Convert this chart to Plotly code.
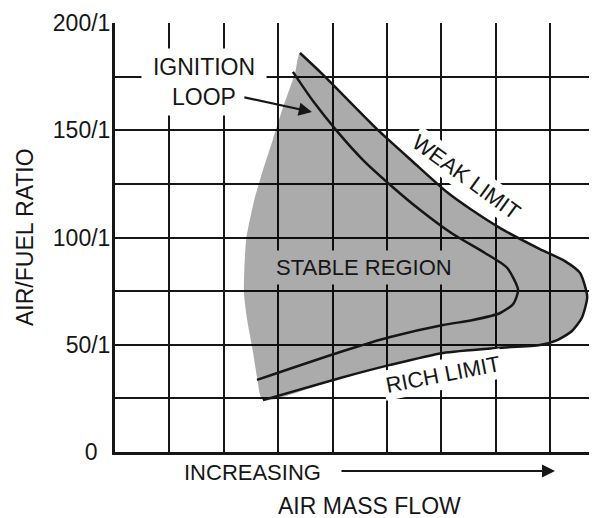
import plotly.graph_objects as go

# ---- data (x in grid units of air mass flow, y = air/fuel ratio) ----
y_tick_vals = [0, 25, 50, 75, 100, 125, 150, 175, 200]
y_tick_text = ["0\u00a0\u00a0", "", "50/1", "", "100/1", "", "150/1", "", "200/1"]

# weak limit -> nose -> rich limit (outer boundary of the stable region)
outer_x = [3.40, 3.77, 4.14, 4.87, 5.48, 6.10, 6.56, 7.08, 7.81, 8.27, 8.55, 8.68,
           8.58, 8.40, 8.13, 7.81, 7.02, 6.03, 5.06, 4.14, 2.72]
outer_y = [186.0, 177.2, 167.8, 149.2, 135.2, 121.2, 112.8, 104.4, 94.6, 89.0, 83.4, 72.3,
           62.5, 56.4, 52.2, 49.9, 48.5, 46.2, 40.6, 34.5, 24.2]

# low-flow (left) edge of the stable region, bottom to top
left_x = [2.61, 2.54, 2.43, 2.37, 2.41, 2.56, 2.72, 2.90, 3.09, 3.31]
left_y = [35.0, 46.2, 61.5, 74.1, 98.8, 117.5, 131.5, 145.5, 160.8, 176.7]

# ignition loop
ign_x = [3.27, 3.64, 4.08, 4.56, 5.06, 5.61, 6.21, 6.80, 7.21, 7.41,
         7.32, 7.08, 6.58, 6.03, 5.06, 4.14, 2.61]
ign_y = [177.2, 163.6, 149.6, 136.1, 124.5, 112.8, 101.6, 92.8, 85.8, 75.5,
         69.0, 64.8, 61.5, 59.2, 53.6, 46.6, 33.6]

X_MAX = 8.86
FONT = "Liberation Sans, Arial, Helvetica, sans-serif"
INK = "#161616"
GREY = "#ababab"

fig = go.Figure()

# shaded stable region (semi-transparent so grid stays black on top)
fig.add_trace(go.Scatter(
    x=outer_x + left_x + [outer_x[0]],
    y=outer_y + left_y + [outer_y[0]],
    mode="lines", fill="toself", fillcolor="rgba(0,0,0,0.33)",
    line=dict(width=0, shape="spline", smoothing=0.6),
    hoverinfo="skip"))

fig.add_trace(go.Scatter(x=outer_x, y=outer_y, mode="lines",
                         line=dict(color=INK, width=2.5, shape="spline", smoothing=0.6),
                         hoverinfo="skip"))
fig.add_trace(go.Scatter(x=ign_x, y=ign_y, mode="lines",
                         line=dict(color=INK, width=2.5, shape="spline", smoothing=0.6),
                         hoverinfo="skip"))

fig.update_xaxes(range=[0, X_MAX], dtick=1, tick0=0, showgrid=True, gridcolor=INK, gridwidth=2.4,
                 showticklabels=False, ticks="", zeroline=False,
                 showline=True, linecolor=INK, linewidth=3, fixedrange=True)
fig.update_yaxes(range=[0, 200], tickmode="array", tickvals=y_tick_vals, ticktext=y_tick_text,
                 showgrid=True, gridcolor=INK, gridwidth=2.4, ticks="", zeroline=False,
                 showline=True, linecolor=INK, linewidth=3,
                 tickfont=dict(family=FONT, size=23, color=INK), ticklabelstandoff=-3,
                 fixedrange=True)

ann = []
ann.append(dict(x=1.64, y=172.5, xref="x", yref="y", text="IGNITION<br>LOOP", showarrow=False,
                font=dict(family=FONT, size=23, color=INK), bgcolor="white",
                width=124, height=66, borderpad=0, align="center"))
ann.append(dict(x=3.62, y=158.5, ax=2.35, ay=165.5, xref="x", yref="y", axref="x", ayref="y",
                text="", showarrow=True, arrowhead=2, arrowsize=1.2, arrowwidth=2.2,
                arrowcolor=INK, standoff=0, startstandoff=0))
ann.append(dict(x=4.58, y=86.2, xref="x", yref="y", text="STABLE REGION", showarrow=False,
                font=dict(family=FONT, size=22, color=INK), bgcolor=GREY, borderpad=4))
ann.append(dict(x=6.47, y=128.2, xref="x", yref="y", text="WEAK LIMIT", showarrow=False,
                textangle=36, font=dict(family=FONT, size=22, color=INK), bgcolor="white",
                borderpad=2))
ann.append(dict(x=6.03, y=35.9, xref="x", yref="y", text="RICH LIMIT", showarrow=False,
                textangle=-11, font=dict(family=FONT, size=22, color=INK), bgcolor="white",
                borderpad=2))
# below the plot: paper coordinates (data-referenced annotations outside the range are hidden)
PW, PH = 482.0, 429.0
ann.append(dict(x=(252 - 115) / PW, y=-20 / PH, xref="paper", yref="paper", text="INCREASING",
                xanchor="center", yanchor="middle",
                showarrow=False, font=dict(family=FONT, size=22, color=INK)))
ann.append(dict(x=(555 - 115) / PW, y=-19 / PH, ax=-215, ay=0, xref="paper", yref="paper",
                text="", showarrow=True, arrowhead=2, arrowsize=1.3, arrowwidth=2,
                arrowcolor=INK, standoff=0, startstandoff=0))
ann.append(dict(x=(369 - 115) / PW, y=-54 / PH, xref="paper", yref="paper", text="AIR MASS FLOW",
                xanchor="center", yanchor="middle",
                showarrow=False, font=dict(family=FONT, size=23, color=INK)))
ann.append(dict(x=(25 - 115) / PW, y=(452 - 237) / PH, xref="paper", yref="paper",
                text="AIR/FUEL RATIO", showarrow=False, xanchor="center", yanchor="middle",
                textangle=-90, font=dict(family=FONT, size=23, color=INK)))

# the page body has an 8px margin, so the figure is offset by (8, 8)
fig.update_layout(width=589, height=510,
                  margin=dict(l=107, r=0, t=15, b=66, autoexpand=False),
                  plot_bgcolor="white", paper_bgcolor="white", showlegend=False,
                  annotations=ann)

fig.write_html("out.html")
